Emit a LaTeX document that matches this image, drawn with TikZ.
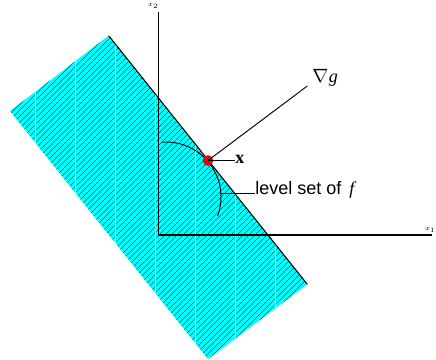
\documentclass[tikz,border=0pt]{standalone}
\usepackage{fontspec}
\setmainfont{Liberation Serif}
\setsansfont{Liberation Sans}
\definecolor{fillcyan}{RGB}{0,255,255}
\definecolor{hatchcol}{RGB}{15,90,100}
\definecolor{dotred}{RGB}{220,10,10}
\begin{document}
\begin{tikzpicture}[x=0.75pt,y=-0.75pt,
  hatch/.style={draw=hatchcol,line width=0.36pt},
  gridv/.style={draw=white,line width=0.95pt},
  gridh/.style={draw=white,opacity=0.15,line width=0.5pt},
  axis/.style={draw=black,line width=0.9pt},
  thin/.style={draw=black,line width=0.7pt},
  lab/.style={inner sep=0pt,font=\fontsize{13.5}{15}\selectfont}]
\useasboundingbox (0,0) rectangle (436,360);
\coordinate (T) at (108.7,35.7);
\coordinate (R) at (307.3,284.3);
\coordinate (B) at (208,359);
\coordinate (L) at (10,111);
\fill[fillcyan] (T) -- (R) -- (B) -- (L) -- cycle;
\begin{scope}
  \clip (T) -- (R) -- (B) -- (L) -- cycle;
  \foreach \c in {118,124,...,600} {\draw[hatch] (\c,0) -- (\c-400,400);}
  \foreach \gx in {35.3,75.35,115.4,155.45,195.5,235.55,275.6} {\draw[gridv] (\gx,0) -- (\gx,360);}
  \foreach \gy in {21.7,61.7,101.7,141.7,181.7,221.7,261.7,301.7,341.7} {\draw[gridh] (0,\gy) -- (436,\gy);}
\end{scope}
\draw[line width=0.8pt] (T) -- (R);
% axes
\coordinate (O) at (158.3,235);
\coordinate (Ytop) at (158.3,12);
\coordinate (Xend) at (432,235);
\draw[axis] (Ytop) -- (O) -- (Xend);
\node[inner sep=0pt,font=\fontsize{4.5}{5}\selectfont] (x2lab) at (153,6) {$x_2$};
\node[inner sep=0.3pt,anchor=east,font=\fontsize{4.5}{5}\selectfont] (x1lab) at (436,230) {$x_1$};
% level set arc
\coordinate (C) at (166,197);
\draw[thin] ([shift={(265.4:55)}]C) arc[start angle=265.4,end angle=380.3,radius=55];
% point and labels
\node[circle,fill=dotred,inner sep=0pt,minimum size=8pt] (xpt) at (208,160.5) {};
\node[lab,anchor=base west] (grad) at (312,83) {$\nabla$\kern0.5pt\textit{g}};
\coordinate (gradend) at (307.3,86);
\draw[thin] (xpt.center) -- (gradend);
\node[lab,anchor=base west] (xlab) at (235,163.5) {\textbf{x}};
\draw[thin] (xpt.center) -- (xlab.west |- xpt.center);
\node[lab,anchor=base west] (lvl) at (255,195) {\sffamily level set of\hspace{0.45em}\textit{\rmfamily f}};
\coordinate (arcpt) at (220.9,193);
\draw[thin] (arcpt) -- (lvl.west |- arcpt);
\end{tikzpicture}
\end{document}
